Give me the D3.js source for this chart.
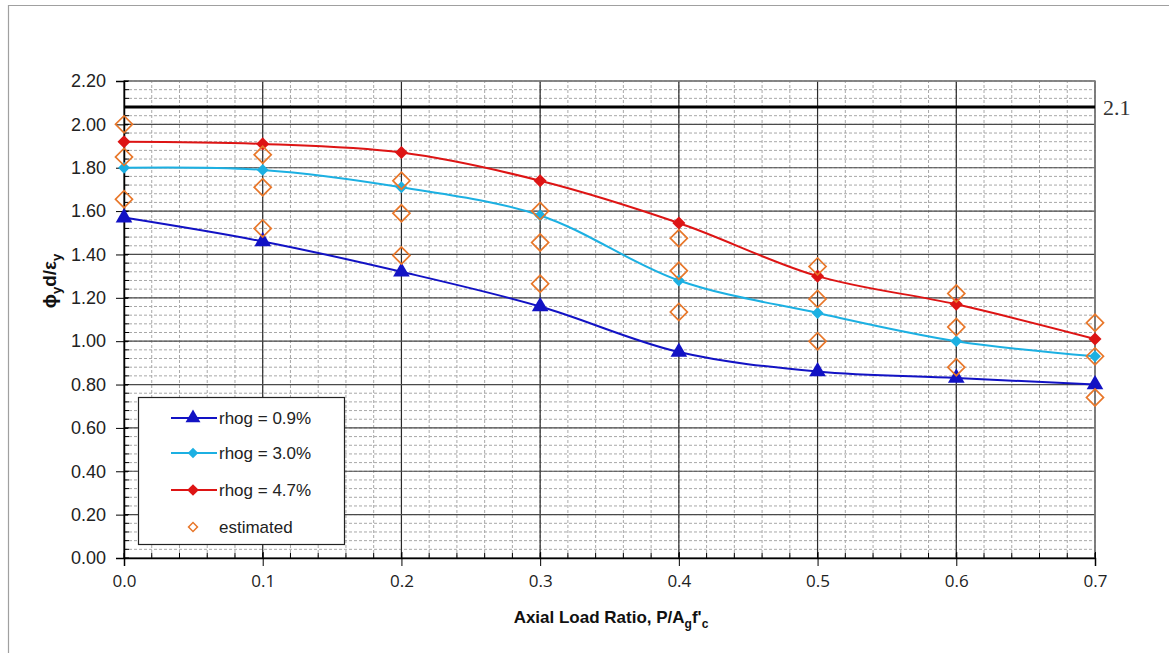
<!DOCTYPE html>
<html>
<head>
<meta charset="utf-8">
<script src="https://cdn.jsdelivr.net/npm/d3@7"></script>
<style>
  body { margin: 0; background: #fff; }
  svg { display: block; }
</style>
</head>
<body>
<div id="chart"></div>
<script>
// data
var ratios = [0.0, 0.1, 0.2, 0.3, 0.4, 0.5, 0.6, 0.7]
var rhog09 = [1.57, 1.46, 1.32, 1.16, 0.95, 0.86, 0.83, 0.80]
var rhog30 = [1.80, 1.79, 1.71, 1.58, 1.28, 1.13, 1.00, 0.93]
var rhog47 = [1.92, 1.91, 1.87, 1.74, 1.545, 1.30, 1.17, 1.01]
var estHigh = [2.00, 1.86, 1.74, 1.60, 1.475, 1.345, 1.22, 1.085]
var estMid = [1.85, 1.71, 1.59, 1.455, 1.325, 1.195, 1.065, 0.93]
var estLow = [1.655, 1.52, 1.395, 1.265, 1.135, 1.00, 0.88, 0.74]
var xTicks = [0.0, 0.1, 0.2, 0.3, 0.4, 0.5, 0.6, 0.7]
var yTicks = [0.0, 0.2, 0.4, 0.6, 0.8, 1.0, 1.2, 1.4, 1.6, 1.8, 2.0, 2.2]
var seriesNames = ["rhog = 0.9%", "rhog = 3.0%", "rhog = 4.7%"]
var limitLine = 2.08   // drawn line, annotated "2.1"

var width = 1169
    height = 653

var svg = d3.select("#chart")
  .append("svg")
    .attr("width", width)
    .attr("height", height)

// outer frame of the picture
svg.append("path")
  .attr("d", "M8.5,653 L8.5,5.5 L1169,5.5")
  .attr("fill", "none")
  .attr("stroke", "#a0a0a0")
  .attr("stroke-width", 1.2)

var x = d3.scaleLinear().domain([0, 0.7]).range([124, 1095])
var y = d3.scaleLinear().domain([0, 2.2]).range([558, 81])

// minor grid
var xMinor = d3.range(0, 0.7001, 0.02)
var yMinor = d3.range(0, 2.2001, 0.04)
svg.append("g").selectAll("line")
  .data(xMinor)
  .enter().append("line")
    .attr("x1", d => x(d)).attr("x2", d => x(d))
    .attr("y1", y(0)).attr("y2", y(2.2))
    .attr("stroke", "#a8a8a8")
    .attr("stroke-dasharray", "3,2")
svg.append("g").selectAll("line")
  .data(yMinor)
  .enter().append("line")
    .attr("x1", x(0)).attr("x2", x(0.7))
    .attr("y1", d => y(d)).attr("y2", d => y(d))
    .attr("stroke", "#a8a8a8")
    .attr("stroke-dasharray", "3,2")

// major grid
svg.append("g").selectAll("line")
  .data(xTicks)
  .enter().append("line")
    .attr("x1", d => x(d)).attr("x2", d => x(d))
    .attr("y1", y(0)).attr("y2", y(2.2))
    .attr("stroke", "#2a2a2a")
    .attr("stroke-width", 1.2)
svg.append("g").selectAll("line")
  .data(yTicks)
  .enter().append("line")
    .attr("x1", x(0)).attr("x2", x(0.7))
    .attr("y1", d => y(d)).attr("y2", d => y(d))
    .attr("stroke", "#4a4a4a")
    .attr("stroke-width", 1.2)

// plot border
svg.append("rect")
  .attr("x", x(0)).attr("y", y(2.2))
  .attr("width", x(0.7) - x(0)).attr("height", y(0) - y(2.2))
  .attr("fill", "none")
  .attr("stroke", "#808080")
  .attr("stroke-width", 1.5)

// axes
var yAxis = svg.append("g")
  .attr("transform", "translate(" + x(0) + ",0)")
  .call(d3.axisLeft(y).tickValues(yTicks).tickFormat(d3.format(".2f")).tickSize(8).tickPadding(10))
yAxis.selectAll(".tick line").attr("x2", -8).attr("x1", 4)
yAxis.select(".domain").attr("stroke", "#000").attr("stroke-width", 1.5)
yAxis.selectAll("text")
  .attr("font-family", "Liberation Sans, Arial, sans-serif")
  .attr("font-size", 18)
  .attr("fill", "#222")
yAxis.selectAll(".minor").data(yMinor).enter().append("line")
  .attr("x1", 0).attr("x2", 5)
  .attr("y1", d => y(d)).attr("y2", d => y(d))
  .attr("stroke", "#000")

var xAxis = svg.append("g")
  .attr("transform", "translate(0," + y(0) + ")")
  .call(d3.axisBottom(x).tickValues(xTicks).tickFormat(d3.format(".1f")).tickSize(8).tickPadding(9))
xAxis.selectAll(".tick line").attr("y1", -6).attr("y2", 8)
xAxis.select(".domain").attr("stroke", "#000").attr("stroke-width", 1.5)
xAxis.selectAll("text")
  .attr("font-family", "Open Sans, sans-serif")
  .attr("font-size", 17)
  .attr("fill", "#222")
xAxis.selectAll(".minor").data(xMinor).enter().append("line")
  .attr("x1", d => x(d)).attr("x2", d => x(d))
  .attr("y1", 0).attr("y2", -5)
  .attr("stroke", "#000")

// horizontal limit line
svg.append("line")
  .attr("x1", x(0)).attr("x2", x(0.7))
  .attr("y1", y(limitLine)).attr("y2", y(limitLine))
  .attr("stroke", "#000")
  .attr("stroke-width", 3)
svg.append("text")
  .attr("x", 1103).attr("y", y(limitLine) + 8)
  .attr("font-family", "Liberation Serif, serif")
  .attr("font-size", 22)
  .attr("fill", "#333")
  .text("2.1")

// series lines
var line = d3.line()
  .x((d, i) => x(ratios[i]))
  .y(d => y(d))
  .curve(d3.curveCatmullRom.alpha(0.5))

var diamond = d3.symbolSquare
var series = [
  {name: seriesNames[0], values: rhog09, color: "#1212c4", shape: d3.symbolTriangle, size: 120, rot: 0},
  {name: seriesNames[1], values: rhog30, color: "#1cb0e2", shape: diamond, size: 70, rot: 45},
  {name: seriesNames[2], values: rhog47, color: "#dd1414", shape: diamond, size: 85, rot: 45}
]

series.forEach(function(s) {
  svg.append("path")
    .datum(s.values)
    .attr("d", line)
    .attr("fill", "none")
    .attr("stroke", s.color)
    .attr("stroke-width", 2)
  svg.append("g").selectAll("path")
    .data(s.values)
    .enter().append("path")
      .attr("d", d3.symbol().type(s.shape).size(s.size))
      .attr("transform", (d, i) => "translate(" + x(ratios[i]) + "," + y(d) + ") rotate(" + s.rot + ")")
      .attr("fill", s.color)
})

// estimated points, hollow diamonds
var estimated = [estHigh, estMid, estLow]
estimated.forEach(function(vals) {
  svg.append("g").selectAll("path")
    .data(vals)
    .enter().append("path")
      .attr("d", d3.symbol().type(diamond).size(145))
      .attr("transform", (d, i) => "translate(" + x(ratios[i]) + "," + y(d) + ") rotate(45)")
      .attr("fill", "none")
      .attr("stroke", "#e8772a")
      .attr("stroke-width", 1.7)
})

// legend
var legend = svg.append("g")
legend.append("rect")
  .attr("x", 138.5).attr("y", 397.5)
  .attr("width", 206).attr("height", 147)
  .attr("fill", "#fff")
  .attr("stroke", "#222")
  .attr("stroke-width", 1.2)

var rows = [418, 453, 490, 527]
series.forEach(function(s, i) {
  legend.append("line")
    .attr("x1", 171).attr("x2", 217)
    .attr("y1", rows[i]).attr("y2", rows[i])
    .attr("stroke", s.color).attr("stroke-width", 2)
  legend.append("path")
    .attr("d", d3.symbol().type(s.shape).size(s.size * 0.8))
    .attr("transform", "translate(193," + rows[i] + ") rotate(" + s.rot + ")")
    .attr("fill", s.color)
  legend.append("text")
    .attr("x", 219).attr("y", rows[i] + 6)
    .attr("font-family", "Liberation Sans, Arial, sans-serif")
    .attr("font-size", 17)
    .attr("fill", "#222")
    .text(s.name)
})
legend.append("path")
  .attr("d", d3.symbol().type(diamond).size(40))
  .attr("transform", "translate(193," + rows[3] + ") rotate(45)")
  .attr("fill", "none")
  .attr("stroke", "#e8772a")
  .attr("stroke-width", 1.5)
legend.append("text")
  .attr("x", 219).attr("y", rows[3] + 6)
  .attr("font-family", "Liberation Sans, Arial, sans-serif")
  .attr("font-size", 17)
  .attr("fill", "#222")
  .text("estimated")

// axis titles
var xt = svg.append("text")
  .attr("x", 611).attr("y", 623)
  .attr("text-anchor", "middle")
  .attr("font-family", "Liberation Sans, Arial, sans-serif")
  .attr("font-weight", "bold")
  .attr("font-size", 17)
  .attr("fill", "#111")
xt.append("tspan").text("Axial Load Ratio, P/A")
xt.append("tspan").attr("font-size", 12).attr("dy", 5).text("g")
xt.append("tspan").attr("dy", -5).text("f'")
xt.append("tspan").attr("font-size", 12).attr("dy", 5).text("c")

var yt = svg.append("text")
  .attr("transform", "translate(56,281) rotate(-90)")
  .attr("text-anchor", "middle")
  .attr("font-family", "Liberation Sans, Arial, sans-serif")
  .attr("font-weight", "bold")
  .attr("font-size", 19)
  .attr("fill", "#111")
yt.append("tspan").text("\u03d5")
yt.append("tspan").attr("font-size", 13).attr("dy", 5).text("y")
yt.append("tspan").attr("dy", -5).text("d/\u03b5")
yt.append("tspan").attr("font-size", 13).attr("dy", 5).text("y")
</script>
</body>
</html>
